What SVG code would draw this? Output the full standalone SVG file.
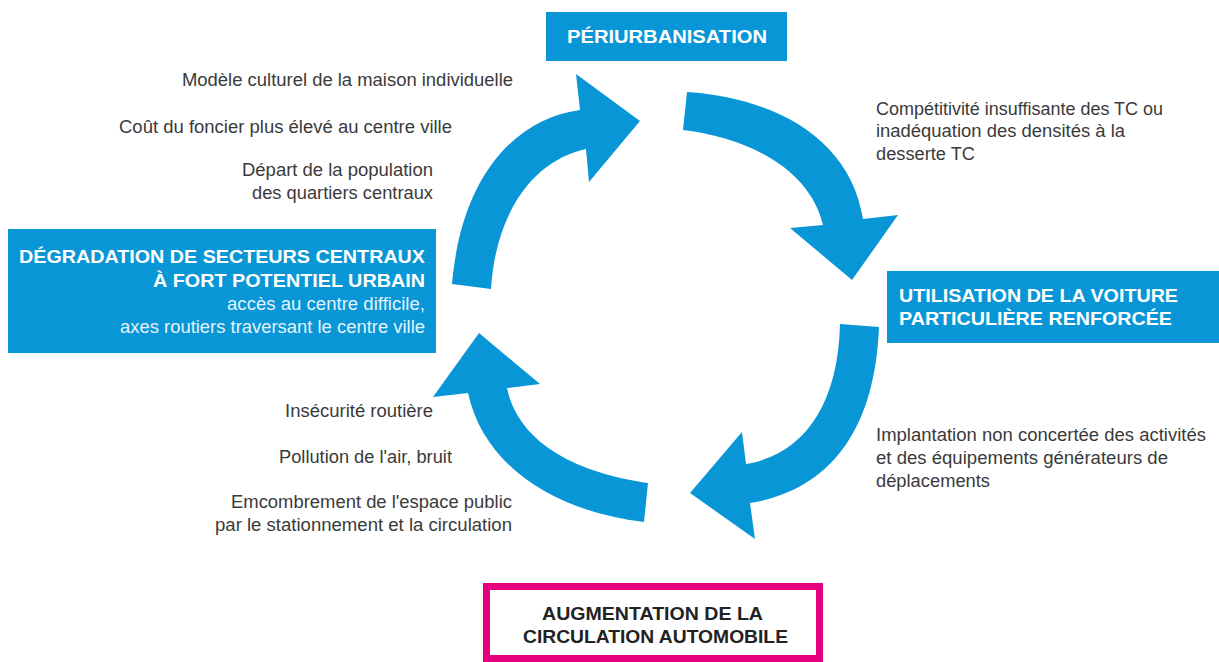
<svg xmlns="http://www.w3.org/2000/svg" width="1219" height="662" viewBox="0 0 1219 662">
  <style>
    .box { fill: #0896d7; }
    .head { font-family: "Liberation Sans", Arial, sans-serif; font-weight: bold; font-size: 19px; fill: #ffffff; }
    .sub { font-family: "Liberation Sans", Arial, sans-serif; font-size: 17.5px; fill: #e4f3fb; }
    .note { font-family: "Liberation Sans", Arial, sans-serif; font-size: 17.5px; fill: #3a3a3a; }
    .dark { font-family: "Liberation Sans", Arial, sans-serif; font-weight: bold; font-size: 19px; fill: #222222; }
    .arrow { fill: #0896d7; }
  </style>

  <!-- cycle arrows -->
  <g id="connectors">
    <path class="arrow" d="M452,284 C462,170 520,118 580,110 L576,74 L640,121 L589,182 L586,149 C535,160 496,210 491,289 Z"/>
    <path class="arrow" d="M687,92 C775,98 850,138 863,219 L898,215 L852,280 L790,228 L823,225 C810,170 750,138 683,130 Z"/>
    <path class="arrow" d="M840,324 L879,327 C875,430 830,490 750,503 L755,539 L690,493 L742,432 L746,464 C800,455 838,410 840,324 Z"/>
    <path class="arrow" d="M644,522 C560,512 485,470 468,393 L433,397 L479,333 L540,384 L507,388 C520,450 590,475 648,483 Z"/>
  </g>

  <g id="periurbanisation">
    <rect class="box" x="546" y="12" width="241" height="49"/>
    <text class="head" x="567" y="43" textLength="200" lengthAdjust="spacingAndGlyphs">PÉRIURBANISATION</text>
  </g>

  <g id="utilisation-voiture">
    <rect class="box" x="887" y="271" width="332" height="72"/>
    <text class="head" x="899" y="302" textLength="279" lengthAdjust="spacingAndGlyphs">UTILISATION DE LA VOITURE</text>
    <text class="head" x="899" y="325" textLength="273" lengthAdjust="spacingAndGlyphs">PARTICULIÈRE RENFORCÉE</text>
  </g>

  <g id="degradation-centre">
    <rect class="box" x="8" y="229" width="428" height="124"/>
    <text class="head" x="19" y="263" textLength="406" lengthAdjust="spacingAndGlyphs">DÉGRADATION DE SECTEURS CENTRAUX</text>
    <text class="head" x="153" y="287" textLength="272" lengthAdjust="spacingAndGlyphs">À FORT POTENTIEL URBAIN</text>
    <text class="sub" x="227" y="310" textLength="198" lengthAdjust="spacingAndGlyphs">accès au centre difficile,</text>
    <text class="sub" x="120" y="333" textLength="305" lengthAdjust="spacingAndGlyphs">axes routiers traversant le centre ville</text>
  </g>

  <g id="augmentation-circulation">
    <rect x="486.5" y="586.5" width="333" height="72" fill="#ffffff" stroke="#e6007e" stroke-width="7"/>
    <text class="dark" x="542" y="620" textLength="221" lengthAdjust="spacingAndGlyphs">AUGMENTATION DE LA</text>
    <text class="dark" x="523" y="643" textLength="265" lengthAdjust="spacingAndGlyphs">CIRCULATION AUTOMOBILE</text>
  </g>

  <g id="causes-periurbanisation">
    <text class="note" x="182" y="86" textLength="331" lengthAdjust="spacingAndGlyphs">Modèle culturel de la maison individuelle</text>
    <text class="note" x="119" y="133" textLength="333" lengthAdjust="spacingAndGlyphs">Coût du foncier plus élevé au centre ville</text>
    <text class="note" x="242" y="176" textLength="191" lengthAdjust="spacingAndGlyphs">Départ de la population</text>
    <text class="note" x="252" y="199" textLength="181" lengthAdjust="spacingAndGlyphs">des quartiers centraux</text>
  </g>

  <g id="causes-voiture">
    <text class="note" x="876" y="115" textLength="287" lengthAdjust="spacingAndGlyphs">Compétitivité insuffisante des TC ou</text>
    <text class="note" x="876" y="137" textLength="249" lengthAdjust="spacingAndGlyphs">inadéquation des densités à la</text>
    <text class="note" x="876" y="160" textLength="99" lengthAdjust="spacingAndGlyphs">desserte TC</text>
  </g>

  <g id="causes-circulation">
    <text class="note" x="876" y="441" textLength="330" lengthAdjust="spacingAndGlyphs">Implantation non concertée des activités</text>
    <text class="note" x="876" y="464" textLength="292" lengthAdjust="spacingAndGlyphs">et des équipements générateurs de</text>
    <text class="note" x="876" y="487" textLength="114" lengthAdjust="spacingAndGlyphs">déplacements</text>
  </g>

  <g id="effets-circulation">
    <text class="note" x="285" y="417" textLength="148" lengthAdjust="spacingAndGlyphs">Insécurité routière</text>
    <text class="note" x="279" y="463" textLength="173" lengthAdjust="spacingAndGlyphs">Pollution de l'air, bruit</text>
    <text class="note" x="231" y="508" textLength="281" lengthAdjust="spacingAndGlyphs">Emcombrement de l'espace public</text>
    <text class="note" x="215" y="531" textLength="297" lengthAdjust="spacingAndGlyphs">par le stationnement et la circulation</text>
  </g>
</svg>
